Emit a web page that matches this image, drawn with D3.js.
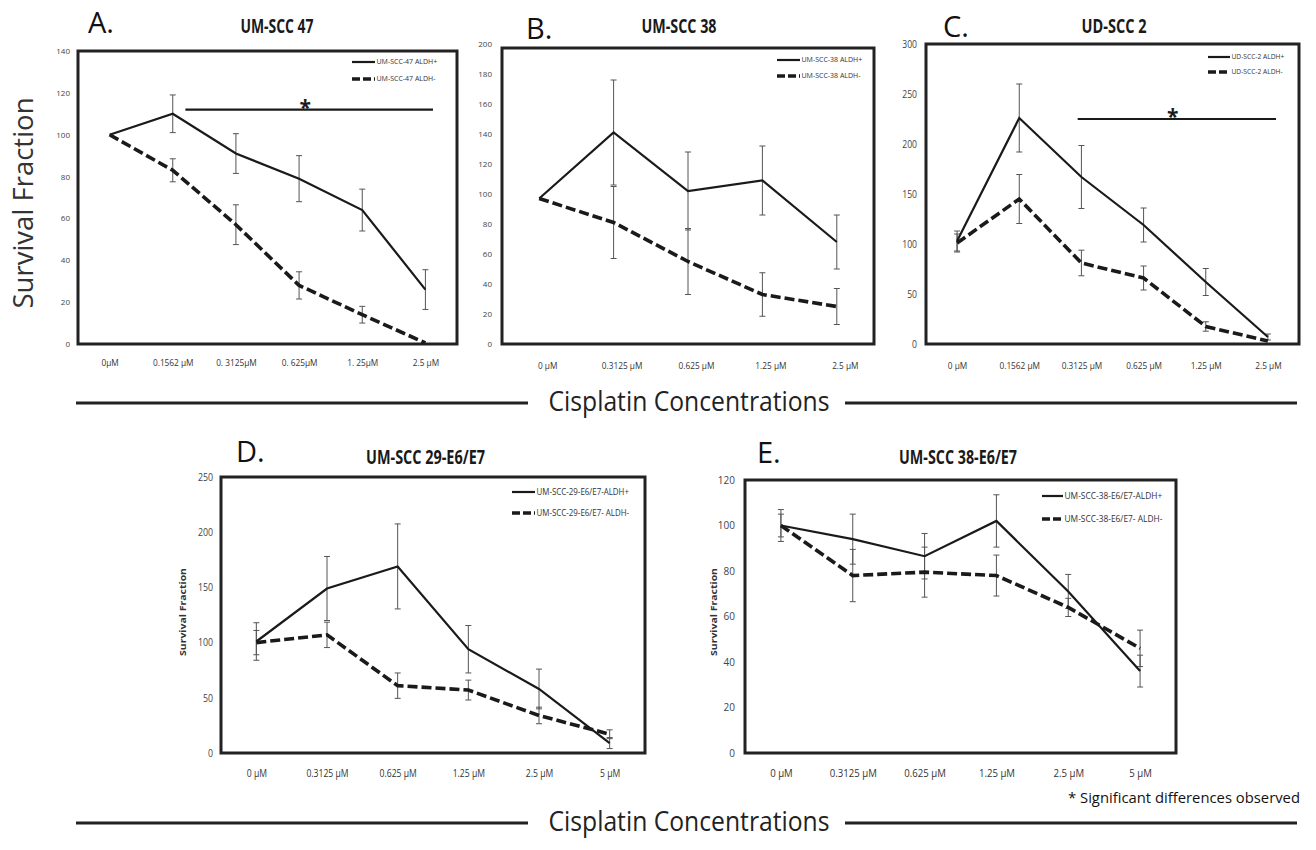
<!DOCTYPE html>
<html>
<head>
<meta charset="utf-8">
<script src="https://cdn.jsdelivr.net/npm/d3@7"></script>
<style>
  body { margin: 0; background: #fff; }
  svg { display: block; }
</style>
</head>
<body>
<svg id="fig" width="1316" height="850"></svg>
<script>
(function () {
  'use strict';

  // ---- Data ----
  const concA = ['0µM', '0.1562 µM', '0. 3125µM', '0. 625µM', '1. 25µM', '2.5 µM'];
  const yTicksA = [0, 20, 40, 60, 80, 100, 120, 140];
  const posA = [100, 110, 91, 79, 64, 26];
  const posErrA = [0, 9, 9.5, 11, 10, 9.5];
  const negA = [100, 83, 57, 28, 14, 0.5];
  const negErrA = [0, 5.5, 9.5, 6.5, 4, 0];
  const legendA = ['UM-SCC-47 ALDH+', 'UM-SCC-47 ALDH-'];
  const sigA = { from: 1.2, to: 5.12, value: 112 };

  const concB = ['0 µM', '0.3125 µM', '0.625 µM', '1.25 µM', '2.5 µM'];
  const yTicksB = [0, 20, 40, 60, 80, 100, 120, 140, 160, 180, 200];
  const posB = [97, 141, 102, 109, 68];
  const posErrB = [0, 35, 26, 23, 18];
  const negB = [97, 81, 55, 33, 25];
  const negErrB = [0, 24, 22, 14.5, 12];
  const legendB = ['UM-SCC-38 ALDH+', 'UM-SCC-38 ALDH-'];

  const concC = ['0 µM', '0.1562 µM', '0.3125 µM', '0.625 µM', '1.25 µM', '2.5 µM'];
  const yTicksC = [0, 50, 100, 150, 200, 250, 300];
  const posC = [103, 226, 167, 119, 62, 7];
  const posErrC = [10, 34, 31.5, 17, 13.5, 3];
  const negC = [101, 145, 81, 66, 17.5, 3];
  const negErrC = [9, 24.5, 12.8, 12, 4.7, 0];
  const legendC = ['UD-SCC-2 ALDH+', 'UD-SCC-2 ALDH-'];
  const sigC = { from: 1.94, to: 5.13, value: 225 };

  const concD = ['0 µM', '0.3125 µM', '0.625 µM', '1.25 µM', '2.5 µM', '5 µM'];
  const yTicksD = [0, 50, 100, 150, 200, 250];
  const posD = [101, 149, 169, 94, 58, 9];
  const posErrD = [17, 29, 38.5, 21.5, 18, 5];
  const negD = [100, 107, 61, 57, 34, 17];
  const negErrD = [11, 11.5, 11.5, 9, 7.5, 4];
  const legendD = ['UM-SCC-29-E6/E7-ALDH+', 'UM-SCC-29-E6/E7- ALDH-'];

  const concE = ['0 µM', '0.3125 µM', '0.625 µM', '1.25 µM', '2.5 µM', '5 µM'];
  const yTicksE = [0, 20, 40, 60, 80, 100, 120];
  const posE = [100, 94, 86.5, 102, 71, 36];
  const posErrE = [7, 11, 10, 11.5, 7.5, 7];
  const negE = [100, 78, 79.5, 78, 64, 46];
  const negErrE = [5, 11.5, 11, 9, 4, 8];
  const legendE = ['UM-SCC-38-E6/E7-ALDH+', 'UM-SCC-38-E6/E7- ALDH-'];

  const panels = [
    { letter: 'A.', title: 'UM-SCC 47', conc: concA, yTicks: yTicksA, pos: posA, posErr: posErrA, neg: negA, negErr: negErrA, legend: legendA, sig: sigA },
    { letter: 'B.', title: 'UM-SCC 38', conc: concB, yTicks: yTicksB, pos: posB, posErr: posErrB, neg: negB, negErr: negErrB, legend: legendB },
    { letter: 'C.', title: 'UD-SCC 2', conc: concC, yTicks: yTicksC, pos: posC, posErr: posErrC, neg: negC, negErr: negErrC, legend: legendC, sig: sigC },
    { letter: 'D.', title: 'UM-SCC 29-E6/E7', conc: concD, yTicks: yTicksD, pos: posD, posErr: posErrD, neg: negD, negErr: negErrD, legend: legendD, yLabel: 'Survival Fraction' },
    { letter: 'E.', title: 'UM-SCC 38-E6/E7', conc: concE, yTicks: yTicksE, pos: posE, posErr: posErrE, neg: negE, negErr: negErrE, legend: legendE, yLabel: 'Survival Fraction' }
  ];

  // ---- Layout (box in px, fonts) ----
  const layout = [
    { x0: 78, x1: 457, y0: 51, y1: 344, yFont: 8, yPad: 8, yCond: 1, xFont: 9, xPad: 16, xCond: 0.92, xShift: 0,
      leg: { x0: 352, x1: 375, ys: [62, 79], font: 7, cond: 1 }, title: { x: 277, y: 33, w: 73 }, letterPos: { x: 88, y: 33 } },
    { x0: 502, x1: 874, y0: 48, y1: 344, yTop: 44, yFont: 8, yPad: 10, yCond: 1, xFont: 9, xPad: 18.5, xCond: 0.92, xShift: 8,
      leg: { x0: 777, x1: 800, ys: [60, 76], font: 7, cond: 1 }, title: { x: 679, y: 33, w: 75 }, letterPos: { x: 526, y: 39 } },
    { x0: 926, x1: 1299, y0: 44, y1: 344, yFont: 10, yPad: 9, yCond: 0.86, xFont: 9, xPad: 19, xCond: 0.92, xShift: 0,
      leg: { x0: 1208, x1: 1230, ys: [57, 72], font: 7, cond: 0.95 }, title: { x: 1114, y: 33, w: 65 }, letterPos: { x: 943, y: 37 } },
    { x0: 221, x1: 645, y0: 477, y1: 753, yFont: 10, yPad: 8, yCond: 0.88, xFont: 10, xPad: 16.5, xCond: 0.86, xShift: 0,
      leg: { x0: 512, x1: 535, ys: [492, 513], font: 9, cond: 0.88 }, title: { x: 425.5, y: 464, w: 119 }, letterPos: { x: 236, y: 462 },
      yLab: { x: 186, y: 612, w: 88 } },
    { x0: 745, x1: 1176, y0: 480, y1: 753, yFont: 10, yPad: 10, yCond: 1, xFont: 10, xPad: 16.5, xCond: 0.96, xShift: 0,
      leg: { x0: 1042, x1: 1063, ys: [496, 519], font: 9, cond: 0.93 }, title: { x: 958, y: 464, w: 118 }, letterPos: { x: 757, y: 463 },
      yLab: { x: 717, y: 612, w: 88 } }
  ];

  const FONT = "'Open Sans', 'DejaVu Sans', sans-serif";
  const INK = '#1a1a1a';
  const svg = d3.select('#fig');

  // squeeze text horizontally, like the narrow face in the figure
  function condense(sel, k) {
    sel.each(function () {
      const len = this.getComputedTextLength();
      d3.select(this).attr('textLength', len * k).attr('lengthAdjust', 'spacingAndGlyphs');
    });
  }
  function fitWidth(sel, w) {
    sel.attr('textLength', w).attr('lengthAdjust', 'spacingAndGlyphs');
  }

  const seriesStyle = [
    { key: 'pos', err: 'posErr', width: 2.2, dash: null },
    { key: 'neg', err: 'negErr', width: 3.6, dash: '10,4' }
  ];

  function drawPanel(p, L) {
    const n = p.conc.length;
    const yMax = p.yTicks[p.yTicks.length - 1];
    const x = d3.scaleLinear().domain([-0.5, n - 0.5]).range([L.x0, L.x1]);
    const y = d3.scaleLinear().domain([0, yMax]).range([L.y1, L.yTop || L.y0]);
    const g = svg.append('g');

    // y tick labels
    const ya = g.append('g')
      .attr('transform', 'translate(' + L.x0 + ',0)')
      .call(d3.axisLeft(y).tickValues(p.yTicks).tickSize(0).tickPadding(L.yPad));
    ya.select('.domain').remove();
    ya.selectAll('text').attr('font-family', FONT).attr('font-size', L.yFont).attr('fill', '#444');
    condense(ya.selectAll('text'), L.yCond);

    // x tick labels
    const xa = g.append('g')
      .attr('transform', 'translate(' + L.xShift + ',' + L.y1 + ')')
      .call(d3.axisBottom(x).tickValues(d3.range(n)).tickFormat(function (i) { return p.conc[i]; })
        .tickSize(0).tickPadding(L.xPad));
    xa.select('.domain').remove();
    xa.selectAll('text').attr('font-family', FONT).attr('font-size', L.xFont).attr('fill', '#333');
    condense(xa.selectAll('text'), L.xCond);

    // plot frame
    g.append('rect')
      .attr('x', L.x0).attr('y', L.y0)
      .attr('width', L.x1 - L.x0).attr('height', L.y1 - L.y0)
      .attr('fill', 'none').attr('stroke', '#222').attr('stroke-width', 3);

    // error bars
    seriesStyle.forEach(function (s) {
      const vals = p[s.key], errs = p[s.err];
      const eg = g.append('g').attr('stroke', '#555').attr('stroke-width', 1);
      vals.forEach(function (v, i) {
        const e = errs[i];
        if (!e) return;
        const cx = x(i);
        eg.append('line').attr('x1', cx).attr('x2', cx).attr('y1', y(v - e)).attr('y2', y(v + e));
        [v - e, v + e].forEach(function (c) {
          eg.append('line').attr('x1', cx - 3).attr('x2', cx + 3).attr('y1', y(c)).attr('y2', y(c));
        });
      });
    });

    // series lines
    const line = d3.line()
      .x(function (d, i) { return x(i); })
      .y(function (d) { return y(d); });
    seriesStyle.forEach(function (s) {
      g.append('path')
        .datum(p[s.key])
        .attr('d', line)
        .attr('fill', 'none')
        .attr('stroke', INK)
        .attr('stroke-width', s.width)
        .attr('stroke-dasharray', s.dash)
        .attr('stroke-linejoin', 'miter');
    });

    // significance bar
    if (p.sig) {
      const sy = y(p.sig.value);
      g.append('line')
        .attr('x1', x(p.sig.from)).attr('x2', x(p.sig.to))
        .attr('y1', sy).attr('y2', sy)
        .attr('stroke', INK).attr('stroke-width', 2.2);
      g.append('text')
        .attr('x', (x(p.sig.from) + x(p.sig.to)) / 2 - 4)
        .attr('y', sy + 5)
        .attr('text-anchor', 'middle')
        .attr('font-family', FONT).attr('font-size', 21).attr('font-weight', 'bold')
        .attr('fill', INK)
        .text('*');
    }

    // legend
    seriesStyle.forEach(function (s, k) {
      const ly = L.leg.ys[k];
      g.append('line')
        .attr('x1', L.leg.x0).attr('x2', L.leg.x1)
        .attr('y1', ly).attr('y2', ly)
        .attr('stroke', INK).attr('stroke-width', s.width)
        .attr('stroke-dasharray', s.dash ? '8,3' : null);
      const t = g.append('text')
        .attr('x', L.leg.x1 + 1.5).attr('y', ly).attr('dy', '0.35em')
        .attr('font-family', FONT).attr('font-size', L.leg.font).attr('fill', '#333')
        .text(p.legend[k]);
      condense(t, L.leg.cond);
    });

    // title and panel letter
    g.append('text')
      .attr('x', L.title.x).attr('y', L.title.y)
      .attr('text-anchor', 'middle')
      .attr('font-family', FONT).attr('font-size', 19).attr('font-weight', 'bold')
      .attr('fill', INK)
      .text(p.title)
      .call(fitWidth, L.title.w);
    g.append('text')
      .attr('x', L.letterPos.x).attr('y', L.letterPos.y)
      .attr('font-family', FONT).attr('font-size', 29)
      .attr('fill', '#111')
      .text(p.letter);

    if (p.yLabel) {
      g.append('text')
        .attr('transform', 'translate(' + L.yLab.x + ',' + L.yLab.y + ') rotate(-90)')
        .attr('text-anchor', 'middle')
        .attr('font-family', FONT).attr('font-size', 8).attr('font-weight', 'bold')
        .attr('fill', '#333')
        .text(p.yLabel)
        .call(fitWidth, L.yLab.w);
    }
  }

  panels.forEach(function (p, i) { drawPanel(p, layout[i]); });

  // ---- Shared labels ----
  svg.append('text')
    .attr('transform', 'translate(33,203) rotate(-90)')
    .attr('text-anchor', 'middle')
    .attr('font-family', FONT).attr('font-size', 28)
    .attr('fill', '#333')
    .text('Survival Fraction')
    .call(fitWidth, 211);

  // divider rows under each row of panels
  [{ lineY: 403, textY: 411 }, { lineY: 823, textY: 831 }].forEach(function (r) {
    svg.append('line').attr('x1', 76).attr('x2', 528).attr('y1', r.lineY).attr('y2', r.lineY)
      .attr('stroke', '#222').attr('stroke-width', 3);
    svg.append('line').attr('x1', 845).attr('x2', 1297).attr('y1', r.lineY).attr('y2', r.lineY)
      .attr('stroke', '#222').attr('stroke-width', 3);
    svg.append('text')
      .attr('x', 689).attr('y', r.textY)
      .attr('text-anchor', 'middle')
      .attr('font-family', FONT).attr('font-size', 27)
      .attr('fill', '#222')
      .text('Cisplatin Concentrations')
      .call(fitWidth, 281);
  });

  svg.append('text')
    .attr('x', 1300).attr('y', 803)
    .attr('text-anchor', 'end')
    .attr('font-family', FONT).attr('font-size', 14)
    .attr('fill', '#111')
    .text('* Significant differences observed')
    .call(fitWidth, 232);
})();
</script>
</body>
</html>
